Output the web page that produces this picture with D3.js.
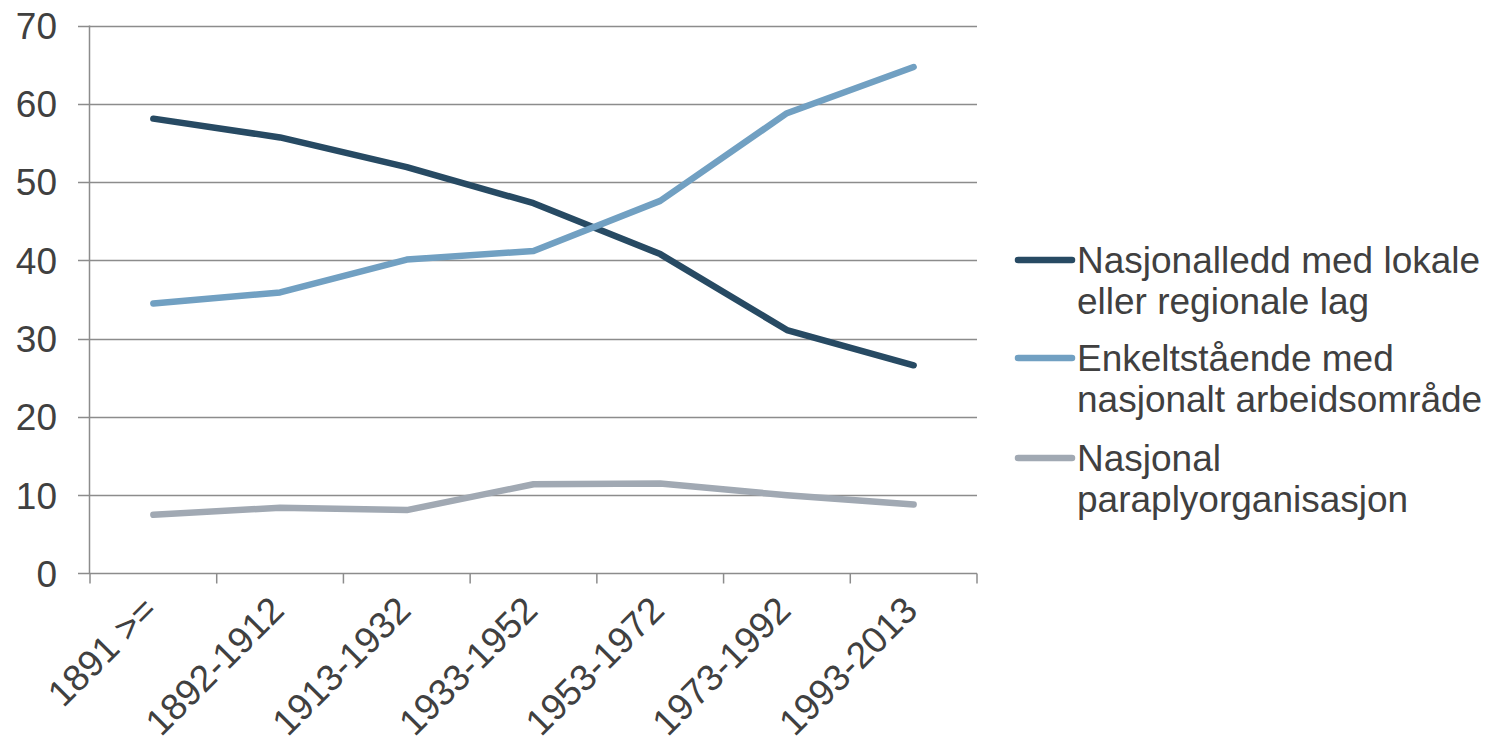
<!DOCTYPE html>
<html><head><meta charset="utf-8">
<script src="https://cdn.jsdelivr.net/npm/d3@7"></script>
<style>body{margin:0;background:#fff}svg{display:block}text{font-family:"Liberation Sans",Arial,sans-serif;fill:#404040}</style>
</head><body>
<svg id="c" width="1495" height="742"></svg>
<script>
const categories = ["1891 >=","1892-1912","1913-1932","1933-1952","1953-1972","1973-1992","1993-2013"];
const seriesNames = [["Nasjonalledd med lokale","eller regionale lag"],["Enkeltstående med","nasjonalt arbeidsområde"],["Nasjonal","paraplyorganisasjon"]];
const nasjonalledd = [58.1, 55.7, 51.9, 47.3, 40.8, 31.1, 26.6];
const enkeltstaende = [34.5, 35.9, 40.1, 41.2, 47.6, 58.8, 64.7];
const paraply = [7.5, 8.4, 8.1, 11.4, 11.5, 10.0, 8.8];
const yTicks = [0,10,20,30,40,50,60,70];
const colors = ["#274a63","#71a0c2","#a1a9b3"];

const svg = d3.select("#c");
const L=90, R=977, T=25.5, B=573.5;
const x = d3.scalePoint().domain(categories).range([L,R]).padding(0.5);
const xb = d3.scaleBand().domain(categories).range([L,R]);
const y = d3.scaleLinear().domain([0,70]).range([B,T]);

// gridlines
svg.append("g").selectAll("line").data(yTicks.filter(d=>d>0)).join("line")
  .attr("x1",L-12).attr("x2",R).attr("y1",d=>Math.round(y(d))+0.5).attr("y2",d=>Math.round(y(d))+0.5)
  .attr("stroke","#8c8c8c").attr("stroke-width",1.5);
// y axis line
svg.append("line").attr("x1",L-0.5).attr("x2",L-0.5).attr("y1",T).attr("y2",B).attr("stroke","#8c8c8c").attr("stroke-width",1.5);
// x axis line
svg.append("line").attr("x1",L-12).attr("x2",R).attr("y1",B).attr("y2",B).attr("stroke","#8c8c8c").attr("stroke-width",1.5);
// x ticks
const bounds = categories.map(c=>xb(c)).concat([R]);
svg.append("g").selectAll("line").data(bounds).join("line")
  .attr("x1",d=>d).attr("x2",d=>d).attr("y1",B).attr("y2",B+10).attr("stroke","#8c8c8c").attr("stroke-width",1.5);
// y labels
svg.append("g").selectAll("text").data(yTicks).join("text")
  .attr("x",57).attr("y",d=>y(d)).attr("dy","0.36em").attr("text-anchor","end")
  .style("font-size","37px").text(d=>d);
// x labels
svg.append("g").selectAll("text").data(categories).join("text")
  .attr("transform",d=>`translate(${x(d)+6},${B+39}) rotate(-45)`)
  .attr("text-anchor","end").style("font-size","37px").text(d=>d);

// lines
const series = [nasjonalledd, enkeltstaende, paraply];
const line = d3.line().x((d,i)=>x(categories[i])).y(d=>y(d));
svg.append("g").selectAll("path").data(series).join("path")
  .attr("d",d=>line(d)).attr("fill","none").attr("stroke",(d,i)=>colors[i])
  .attr("stroke-width",6.5).attr("stroke-linecap","round").attr("stroke-linejoin","round");

// legend
const legY = [260, 358, 458];
const lg = svg.append("g").selectAll("g").data(seriesNames).join("g")
  .attr("transform",(d,i)=>`translate(0,${legY[i]})`);
lg.append("line").attr("x1",1018).attr("x2",1072).attr("y1",0).attr("y2",0)
  .attr("stroke",(d,i)=>colors[i]).attr("stroke-width",6.5).attr("stroke-linecap","round");
lg.append("text").attr("x",1077).attr("y",0).style("font-size","37px")
  .selectAll("tspan").data(d=>d).join("tspan").attr("x",1077).attr("dy",(d,i)=>i===0?"0.36em":"1.1em").text(d=>d);
</script>
</body></html>
